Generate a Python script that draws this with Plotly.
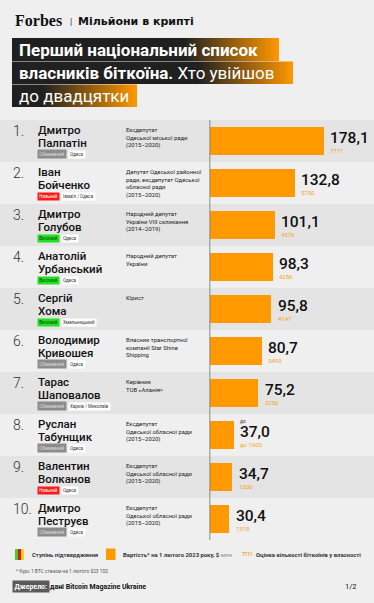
import plotly.graph_objects as go

W, H = 374, 603

# ---------------- data ----------------
ranks = ["1.", "2.", "3.", "4.", "5.", "6.", "7.", "8.", "9.", "10."]
first_names = ["Дмитро", "Іван", "Дмитро", "Анатолій", "Сергій", "Володимир",
               "Тарас", "Руслан", "Валентин", "Дмитро"]
last_names = ["Палпатін", "Бойченко", "Голубов", "Урбанський", "Хома", "Кривошея",
              "Шаповалов", "Табунщик", "Волканов", "Пеструєв"]
descriptions = [
    "Ексдепутат<br>Одеської міської ради<br>(2015–2020)",
    "Депутат Одеської районної<br>ради, ексдепутат Одеської<br>обласної ради<br>(2015–2020)",
    "Народний депутат<br>України VIII скликання<br>(2014–2019)",
    "Народний депутат<br>України",
    "Юрист",
    "Власник транспортної<br>компанії Star Shine<br>Shipping",
    "Керівник<br>ТОВ «Аланія»",
    "Ексдепутат<br>Одеської обласної ради<br>(2015–2020)",
    "Ексдепутат<br>Одеської обласної ради<br>(2015–2020)",
    "Ексдепутат<br>Одеської обласної ради<br>(2015–2020)",
]
confidence = ["Обмежений", "Низький", "Високий", "Високий", "Високий",
              "Обмежений", "Обмежений", "Обмежений", "Низький", "Обмежений"]
cities = ["Одеса", "Ізмаїл / Одеса", "Одеса", "Одеса", "Хмельницький",
          "Одеса", "Харків / Миколаїв", "Одеса", "Одеса", "Одеса"]
values_musd = [178.1, 132.8, 101.1, 98.3, 95.8, 80.7, 75.2, 37.0, 34.7, 30.4]
value_labels = ["178,1", "132,8", "101,1", "98,3", "95,8", "80,7", "75,2", "37,0", "34,7", "30,4"]
value_prefix = ["", "", "", "", "", "", "", "до", "", ""]
btc_counts = ["7711", "5750", "4376", "4256", "4147", "3493", "3256", "до 1600", "1500", "1318"]

# ---------------- styles ----------------
BG = "#efefef"
BAND = "#e4e4e4"
ORANGE = "#ff9900"
ORANGE_TXT = "#f5a31f"
FONT = "Roboto"
tag_style = {
    "Обмежений": dict(bg="#8c8c8c", fg="#dcdcdc", w=26),
    "Низький": dict(bg="#ff1a1a", fg="#ffffff", w=19),
    "Високий": dict(bg="#22e022", fg="#0a3a0a", w=19),
}
n = len(values_musd)
rows = list(range(n))


def xp(x):
    return x / W


def yp(y):
    return 1 - y / H


fig = go.Figure()
fig.add_trace(go.Bar(
    x=values_musd, y=rows, orientation="h", width=0.67,
    marker=dict(color=ORANGE, line=dict(width=0)),
    hoverinfo="skip", showlegend=False,
))

shapes = []
annotations = []

# row bands
for i in rows:
    if i % 2 == 0:
        shapes.append(dict(type="rect", xref="paper", yref="y", x0=0, x1=1,
                           y0=i - 0.5, y1=i + 0.5, fillcolor=BAND,
                           line=dict(width=0), layer="below"))
# baseline axis line
shapes.append(dict(type="line", xref="x", yref="y", x0=0, x1=0, y0=-0.5, y1=n - 0.5,
                   line=dict(color="#6a6a6a", width=1.5)))

for i in rows:
    annotations.append(dict(xref="paper", yref="y", x=xp(11), y=i, yshift=10,
                            text=ranks[i], showarrow=False, xanchor="left", yanchor="middle",
                            font=dict(family=FONT, size=14, weight=300, color="#333333")))
    annotations.append(dict(xref="paper", yref="y", x=xp(35.5), y=i, yshift=11.5,
                            text=first_names[i], showarrow=False,
                            xanchor="left", yanchor="middle",
                            font=dict(family=FONT, size=11.5, weight=500, color="#111111")))
    annotations.append(dict(xref="paper", yref="y", x=xp(35.5), y=i, yshift=-1.5,
                            text=last_names[i], showarrow=False,
                            xanchor="left", yanchor="middle",
                            font=dict(family=FONT, size=11.5, weight=500, color="#111111")))
    st = tag_style[confidence[i]]
    annotations.append(dict(xref="paper", yref="y", x=xp(36.5), y=i, yshift=-13,
                            text=confidence[i], showarrow=False, xanchor="left",
                            yanchor="middle", bgcolor=st["bg"], borderpad=1, width=st["w"],
                            font=dict(family=FONT, size=4.5, color=st["fg"])))
    cx = 36.5 + st["w"] + 2 + 3.5
    annotations.append(dict(xref="paper", yref="y", x=xp(cx), y=i, yshift=-13,
                            text=cities[i], showarrow=False, xanchor="left",
                            yanchor="middle", bgcolor="#ffffff", borderpad=1,
                            font=dict(family=FONT, size=4.5, color="#333333")))
    annotations.append(dict(xref="paper", yref="y", x=xp(123.5), y=i, yshift=16.5,
                            text=descriptions[i], showarrow=False, xanchor="left",
                            yanchor="top", align="left",
                            font=dict(family=FONT, size=5.9, color="#222222")))
    # values
    annotations.append(dict(xref="x", yref="y", x=values_musd[i], y=i, xshift=5, yshift=3,
                            text=value_labels[i], showarrow=False,
                            xanchor="left", yanchor="middle",
                            font=dict(family=FONT, size=15.5, weight=500, color="#111111")))
    annotations.append(dict(xref="x", yref="y", x=values_musd[i], y=i, xshift=5, yshift=-9,
                            text=btc_counts[i], showarrow=False,
                            xanchor="left", yanchor="middle",
                            font=dict(family=FONT, size=6, color=ORANGE_TXT)))
    if value_prefix[i]:
        annotations.append(dict(xref="x", yref="y", x=values_musd[i], y=i, xshift=5, yshift=14,
                                text=value_prefix[i], showarrow=False,
                                xanchor="left", yanchor="middle",
                                font=dict(family=FONT, size=5, color="#444444")))

# ---------------- header ----------------
annotations.append(dict(xref="paper", yref="paper", x=xp(13), y=yp(21), text="<b>Forbes</b>",
                        showarrow=False, xanchor="left", yanchor="middle",
                        font=dict(family="Liberation Serif", size=16, color="#111111")))
annotations.append(dict(xref="paper", yref="paper", x=xp(68), y=yp(21.5), text="|",
                        showarrow=False, xanchor="left", yanchor="middle",
                        font=dict(family=FONT, size=9, color="#333333")))
annotations.append(dict(xref="paper", yref="paper", x=xp(76), y=yp(21.5),
                        text="<b>Мільйони в крипті</b>",
                        showarrow=False, xanchor="left", yanchor="middle",
                        font=dict(family="DejaVu Sans", size=11, color="#111111")))

title_boxes = [(12, 38, 279, 61), (12, 61.5, 293, 84), (12, 84.5, 137, 107)]
title_lines = ["<b>Перший національний список</b>",
               "<b>власників біткоїна.</b> Хто увійшов",
               "до двадцятки"]
for (x0, y0, x1, y1), txt in zip(title_boxes, title_lines):
    fig.add_trace(go.Scatter(
        x=[x0, x1, x1, x0, x0], y=[y0, y0, y1, y1, y0], mode="lines",
        fill="toself", line=dict(width=0),
        fillgradient=dict(type="horizontal",
                          colorscale=[[0, "#202020"], [1, "#ff9800"]],
                          start=x1 - 95, stop=x1),
        xaxis="x2", yaxis="y2", hoverinfo="skip", showlegend=False))
    annotations.append(dict(xref="paper", yref="paper", x=xp(17), y=yp((y0 + y1) / 2 + 0.5),
                            text=txt, showarrow=False, xanchor="left", yanchor="middle",
                            font=dict(family=FONT, size=17, color="#ffffff")))

# ---------------- legend ----------------
for k, c in enumerate(["#3fd22a", "#e8141c", "#f2d51c"]):
    shapes.append(dict(type="rect", xref="paper", yref="paper",
                       x0=xp(15 + 3 * k), x1=xp(18 + 3 * k), y0=yp(560), y1=yp(549),
                       fillcolor=c, line=dict(width=0)))
shapes.append(dict(type="rect", xref="paper", yref="paper",
                   x0=xp(106), x1=xp(115.5), y0=yp(560), y1=yp(548.5),
                   fillcolor=ORANGE, line=dict(width=0)))
LEG = dict(family=FONT, size=5.9, color="#333333")
annotations.append(dict(xref="paper", yref="paper", x=xp(29.5), y=yp(554.5),
                        text="<b>Ступінь підтвердження</b>", showarrow=False,
                        xanchor="left", yanchor="middle", font=LEG))
annotations.append(dict(xref="paper", yref="paper", x=xp(120.5), y=yp(554.5),
                        text="<b>Вартість* на 1 лютого 2023 року, $</b> <span style='color:#888'>млн</span>",
                        showarrow=False, xanchor="left", yanchor="middle", font=LEG))
annotations.append(dict(xref="paper", yref="paper", x=xp(239.5), y=yp(554.5),
                        text="<b>7711</b>", showarrow=False, xanchor="left", yanchor="middle",
                        font=dict(family=FONT, size=4.5, color=ORANGE_TXT)))
annotations.append(dict(xref="paper", yref="paper", x=xp(253.5), y=yp(554.5),
                        text="<b>Оцінка кількості біткоїнів у власності</b>",
                        showarrow=False, xanchor="left", yanchor="middle", font=LEG))
annotations.append(dict(xref="paper", yref="paper", x=xp(14), y=yp(571),
                        text="* Курс 1 BTC станом на 1 лютого $23 103.",
                        showarrow=False, xanchor="left", yanchor="middle",
                        font=dict(family=FONT, size=4.8, color="#555555")))
annotations.append(dict(xref="paper", yref="paper", x=xp(12), y=yp(586.5),
                        text="<b>Джерело:</b>", showarrow=False, xanchor="left", yanchor="middle",
                        bgcolor="#5a5a5a", borderpad=1.5,
                        font=dict(family=FONT, size=7, color="#ffffff")))
annotations.append(dict(xref="paper", yref="paper", x=xp(48), y=yp(586.5),
                        text="<b>дані Bitcoin Magazine Ukraine</b>", showarrow=False,
                        xanchor="left", yanchor="middle",
                        font=dict(family=FONT, size=7, color="#111111")))
annotations.append(dict(xref="paper", yref="paper", x=xp(359), y=yp(586.5),
                        text="1/2", showarrow=False, xanchor="right", yanchor="middle",
                        font=dict(family=FONT, size=7.5, color="#111111")))

fig.update_layout(
    width=W, height=H, margin=dict(l=0, r=0, t=0, b=0),
    paper_bgcolor=BG, plot_bgcolor="rgba(0,0,0,0)",
    showlegend=False, bargap=0,
    xaxis=dict(domain=[209.5 / W, 1], range=[0, 257.4], visible=False, fixedrange=True),
    yaxis=dict(domain=[yp(540), yp(120)], range=[n - 0.5, -0.5], visible=False, fixedrange=True),
    xaxis2=dict(domain=[0, 1], range=[0, W], visible=False, anchor="y2", fixedrange=True),
    yaxis2=dict(domain=[0, 1], range=[H, 0], visible=False, anchor="x2", fixedrange=True),
    shapes=shapes, annotations=annotations,
)

fig.write_html(
    "out.html",
    config={"displayModeBar": False},
    post_script="document.body.style.margin='0';document.body.style.overflow='hidden';"
                "document.body.style.background='" + BG + "';",
)
